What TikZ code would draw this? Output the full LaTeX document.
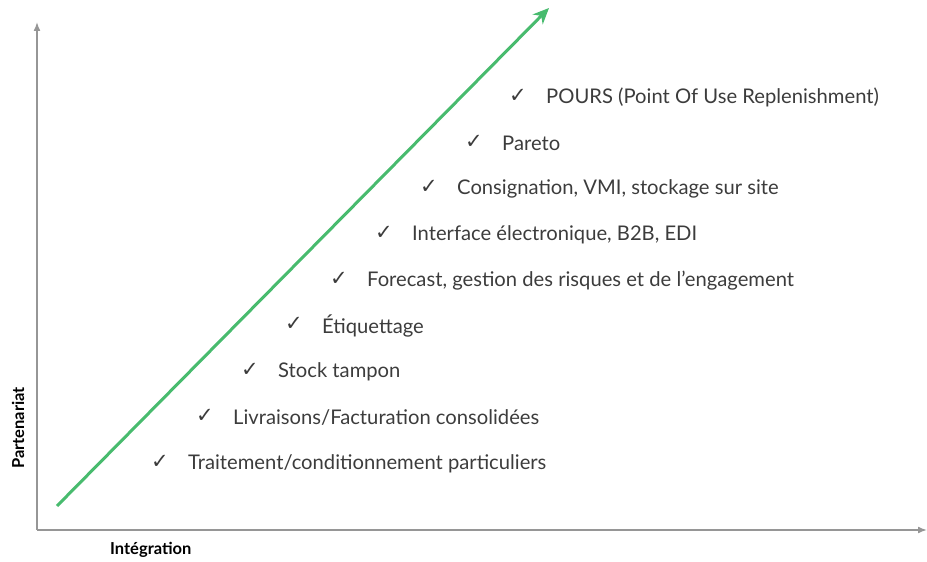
\documentclass[tikz,border=0pt]{standalone}
\usepackage{fontspec}
\setmainfont{Lato}
\newfontfamily\symfont{DejaVu Sans}
\usetikzlibrary{arrows.meta}
\definecolor{axisgray}{RGB}{150,150,150}
\definecolor{arrowgreen}{RGB}{72,187,110}
\definecolor{txtgray}{RGB}{60,60,60}
\tikzset{
  axisline/.style={draw=axisgray,line width=1.6pt,-{Latex[length=9pt,width=7pt]}},
  growline/.style={draw=arrowgreen,line width=3pt,-{Stealth[length=16pt,width=14pt,inset=5pt]}},
  checkmark/.style={inner sep=0pt,text=txtgray,font=\symfont\fontsize{21}{24}\selectfont},
  itemtext/.style={anchor=west,inner sep=0pt,text=txtgray,font=\fontsize{20.2}{24}\selectfont},
  axislabel/.style={inner sep=0pt,text=black,font=\bfseries\fontsize{16.5}{19}\selectfont}
}
\begin{document}
\begin{tikzpicture}[x=1pt,y=1pt]
\useasboundingbox (0,0) rectangle (927,562);
\coordinate (origin) at (37,32);
\coordinate (ytop) at (37,540);
\coordinate (xend) at (927,32);
\coordinate (gstart) at (57,56);
\coordinate (gend) at (549,554);
\draw[axisline] (origin) -- (ytop);
\draw[axisline] (origin) -- (xend);
\draw[growline] (gstart) -- (gend);
\node[axislabel,rotate=90] (ylab) at (18,134) {Partenariat};
\node[axislabel,anchor=west] (xlab) at (110,12) {Intégration};
\foreach \i/\cx/\cy/\t in {
  1/160/100/{Traitement/conditionnement particuliers},
  2/205/146/{Livraisons/Facturation consolidées},
  3/250/192/{Stock tampon},
  4/294/238/{Étiquettage},
  5/339/283/{Forecast, gestion des risques et de l’engagement},
  6/384/329/{Interface électronique, B2B, EDI},
  7/429/375/{Consignation, VMI, stockage sur site},
  8/474/420/{Pareto},
  9/518/466/{POURS (Point Of Use Replenishment)}}{
  \node[checkmark] (c\i) at (\cx,\cy) {✓};
  \node[itemtext] (t\i) at (\cx+28,\cy-1.5) {\t};
}
\end{tikzpicture}
\end{document}
